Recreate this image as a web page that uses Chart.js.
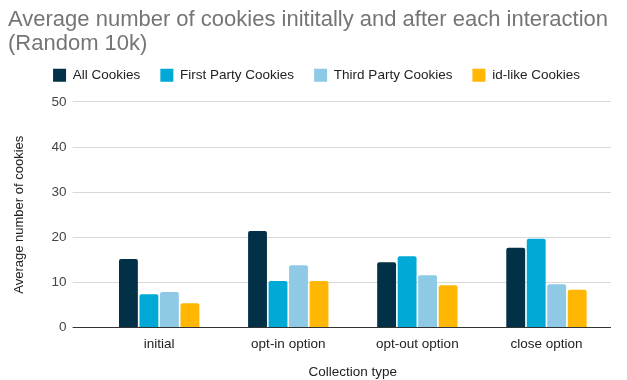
<!DOCTYPE html>
<html>
<head>
<meta charset="utf-8">
<script src="https://cdn.jsdelivr.net/npm/chart.js@4"></script>
<style>
  html, body { margin: 0; padding: 0; background: #fff; }
  #wrap { width: 627px; height: 380px; }
</style>
</head>
<body>
<div id="wrap"><canvas id="cookiesChart" width="627" height="380"></canvas></div>
<script>
// Datos
const categories = ['initial', 'opt-in option', 'opt-out option', 'close option'];
const allCookies = [15.2, 21.4, 14.5, 17.7];
const firstParty = [7.4, 10.3, 15.8, 19.7];
const thirdParty = [7.9, 13.8, 11.6, 9.6];
const idLike = [5.4, 10.3, 9.4, 8.4];
const yTicks = [0, 10, 20, 30, 40, 50];

Chart.defaults.font.family = '"Liberation Sans", Arial, sans-serif';

// espacio extra debajo de la leyenda y leyenda un poco a la derecha
const legendGap = {
    id: 'legendGap',
    beforeInit(chart) {
        const fit = chart.legend.fit;
        chart.legend.fit = function () {
            fit.bind(chart.legend)();
            this.height += 10;
        };
    },
    afterLayout(chart) {
        chart.legend.left += 7;
        chart.legend.right += 7;
    }
};

const ctx = document.getElementById('cookiesChart').getContext('2d');
const cookiesChart = new Chart(ctx, {
    type: 'bar',
    data: {
        labels: categories,
        datasets: [
            { label: 'All Cookies', data: allCookies, backgroundColor: '#023047' },
            { label: 'First Party Cookies', data: firstParty, backgroundColor: '#00a9d6' },
            { label: 'Third Party Cookies', data: thirdParty, backgroundColor: '#8ecae6' },
            { label: 'id-like Cookies', data: idLike, backgroundColor: '#ffb703' }
        ]
    },
    plugins: [legendGap],
    options: {
        responsive: false,
        animation: false,
        datasets: {
            bar: { categoryPercentage: 0.635, barPercentage: 0.92, borderRadius: 2, borderSkipped: 'bottom' }
        },
        layout: { padding: { left: 8, right: 16, top: 8, bottom: -4 } },
        plugins: {
            title: {
                display: true,
                align: 'start',
                text: ['Average number of cookies inititally and after each interaction', '(Random 10k)'],
                color: '#757575',
                font: { size: 22, weight: 'normal', lineHeight: 1.1 },
                padding: { top: 0, bottom: -8 }
            },
            legend: {
                labels: {
                    boxWidth: 13,
                    boxHeight: 13,
                    color: '#222',
                    font: { size: 13.5 },
                    padding: 20
                }
            },
            tooltip: { enabled: false }
        },
        scales: {
            x: {
                grid: { display: false },
                border: { display: false },
                ticks: { color: '#222', font: { size: 13.5 }, padding: 1 },
                title: { display: true, text: 'Collection type', color: '#222', font: { size: 13.5 }, padding: { top: 10 } }
            },
            y: {
                min: 0,
                max: 50,
                afterBuildTicks: (axis) => { axis.ticks = yTicks.map(v => ({ value: v })); },
                grid: {
                    color: (c) => c.tick && c.tick.value === 0 ? '#333' : '#d9d9d9',
                    lineWidth: 1,
                    tickLength: 22
                },
                border: { display: false },
                ticks: { color: '#444', font: { size: 13.5 }, padding: 6 },
                title: { display: true, text: 'Average number of cookies', color: '#222', font: { size: 13 }, padding: { bottom: 18 } }
            }
        }
    }
});
</script>
</body>
</html>
